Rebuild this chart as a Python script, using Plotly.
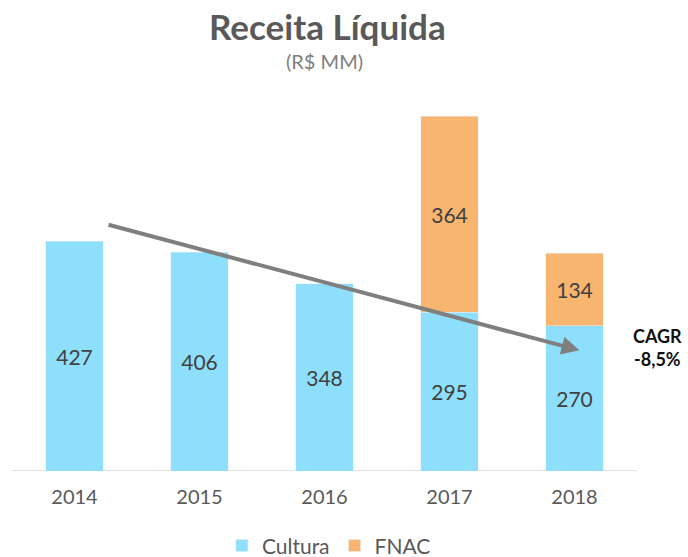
import plotly.graph_objects as go

years = ["2014", "2015", "2016", "2017", "2018"]
cultura = [427, 406, 348, 295, 270]
fnac = [None, None, None, 364, 134]
cagr_text = "CAGR<br>-8,5%"

FONT = "Lato"
T, B = 94, 86
PH = 557 - T - B

fig = go.Figure()
fig.add_trace(go.Bar(
    x=years, y=cultura, name="Cultura", marker_color="#8EDFFC",
    text=[str(v) for v in cultura], textposition="inside", insidetextanchor="middle",
    textfont=dict(size=21, color="#404040", family=FONT), width=0.46,
))
fig.add_trace(go.Bar(
    x=years, y=fnac, name="FNAC", marker_color="#F8B56F",
    text=[str(v) if v else "" for v in fnac], textposition="inside", insidetextanchor="middle",
    textfont=dict(size=21, color="#404040", family=FONT), width=0.46,
))

fig.update_layout(
    barmode="stack",
    width=688, height=557,
    margin=dict(l=12, r=51, t=T, b=B, autoexpand=False),
    plot_bgcolor="white", paper_bgcolor="white",
    font=dict(family=FONT, color="#595959"),
    showlegend=True,
    legend=dict(orientation="h", x=0.507, xanchor="center", yref="container", y=0.02,
                yanchor="middle", font=dict(size=21, color="#595959"),
                traceorder="normal"),
    xaxis=dict(type="category", range=[-0.5, 4.5], showline=False,
               ticks="", tickfont=dict(size=20, color="#595959"),
               ticklabelstandoff=12, showgrid=False),
    yaxis=dict(range=[0, 700], visible=False, showgrid=False),
)

# axis baseline
fig.add_shape(type="line", xref="x", yref="y", x0=-0.51, x1=4.59, y0=0, y1=0,
              line=dict(color="#d9d9d9", width=1.5), layer="below")

fig.add_annotation(xref="paper", yref="paper", x=0.505, y=1 + (T - 26) / PH,
                   yanchor="middle", text="<b>Receita Líquida</b>", showarrow=False,
                   font=dict(size=35, color="#595959", family=FONT))
fig.add_annotation(xref="paper", yref="paper", x=0.5, y=1 + (T - 61) / PH,
                   yanchor="middle", text="(R$ MM)", showarrow=False,
                   font=dict(size=20, color="#7f7f7f", family=FONT))

# trend arrow
fig.add_annotation(x=4.04, y=224, ax=0.26, ay=458, xref="x", yref="y",
                   axref="x", ayref="y", showarrow=True, arrowhead=2,
                   arrowsize=0.9, arrowwidth=4, arrowcolor="#7f7f7f", text="")

fig.add_annotation(xref="paper", yref="y", x=1.0, xanchor="center", xshift=20,
                   y=230, text="<b>" + cagr_text + "</b>", showarrow=False,
                   align="center", font=dict(size=18, color="#111111", family=FONT))

fig.write_html("out.html", config={"displayModeBar": False},
               post_script="document.body.style.margin='0';document.body.style.overflow='hidden';")
